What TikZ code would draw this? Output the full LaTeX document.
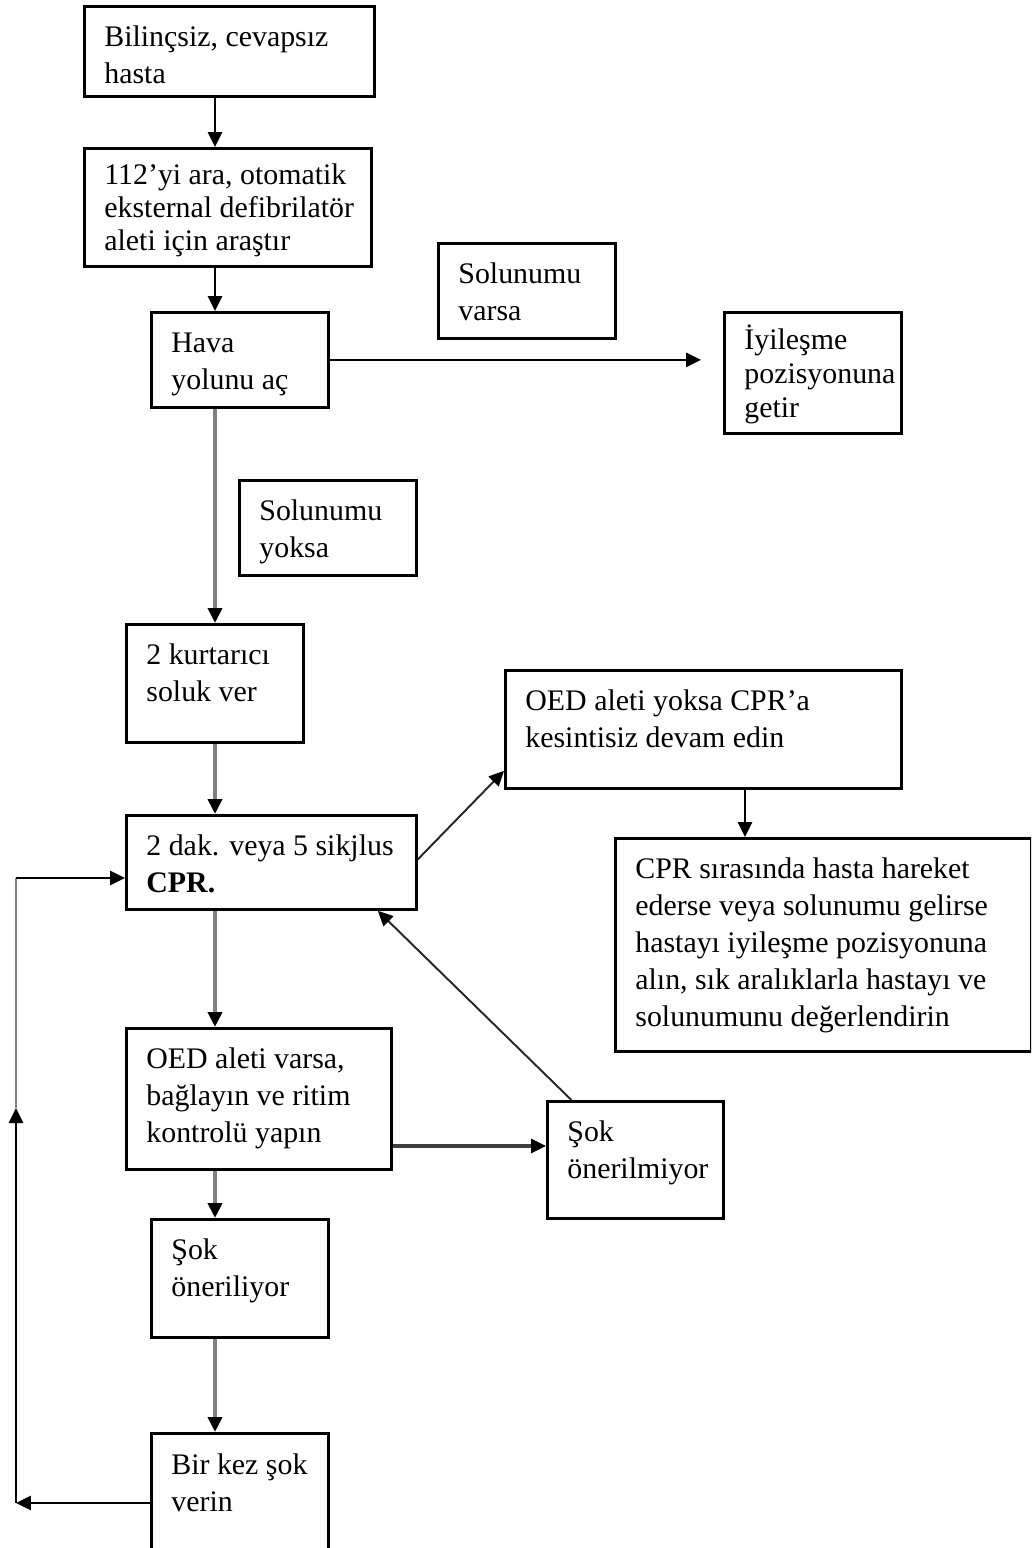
\documentclass[tikz,border=0pt]{standalone}
\usepackage{fontspec}
\setmainfont{Liberation Serif}
\usetikzlibrary{positioning,calc,arrows.meta}

\newlength\unitpx
\setlength\unitpx{0.02cm}
% box text: [first baseline], width, height (in px), lines
\newcommand\boxtext[4][40]{\parbox[b][#3\unitpx][t]{#2\unitpx}{\begin{tabular}[t]{@{}l@{}}\rule{0pt}{#1\unitpx}#4\end{tabular}}}

\begin{document}
\begin{tikzpicture}[x=0.02cm,y=-0.02cm,
    flowbox/.style={rectangle,draw=black,line width=1.6pt,anchor=north west,inner xsep=0.4cm,inner ysep=0pt,font=\fontsize{17}{21}\selectfont},
    arrowtip/.style={-{Triangle[length=0.3cm,width=0.28cm,color=black]}},
    blackline/.style={arrowtip,draw=black,line width=1.6pt},
    grayline/.style={arrowtip,draw=black!50,line width=2.8pt},
    darkline/.style={arrowtip,draw=black!75,line width=1.8pt},
    thinline/.style={arrowtip,draw=black!85,line width=1.1pt}]
        \useasboundingbox (0,0) rectangle (1031,1548);
        \clip (0,0) rectangle (1031,1548);

        % main column
        \node[flowbox] (hasta) at (83,5) {\boxtext{250}{90}{Bilinçsiz, cevapsız\\hasta}};
        \node[flowbox] (ara) at (83,147) {\boxtext[36]{247}{118}{112’yi ara, otomatik\\[-4\unitpx]eksternal defibrilatör\\[-4\unitpx]aleti için araştır}};
        \node[flowbox] (hava) at (150,311) {\boxtext{137}{95}{Hava\\yolunu aç}};
        \node[flowbox] (soluk) at (125,623) {\boxtext{137}{118}{2 kurtarıcı\\soluk ver}};
        \node[flowbox] (cpr) at (125,814) {\boxtext{250}{94}{2 dak. veya 5 sikjlus\\\textbf{CPR.}}};
        \node[flowbox] (ritim) at (125,1027) {\boxtext{225}{141}{OED aleti varsa,\\bağlayın ve ritim\\kontrolü yapın}};
        \node[flowbox] (sokvar) at (150,1218) {\boxtext{137}{118}{Şok\\öneriliyor}};
        \node[flowbox] (birkez) at (150,1432) {\boxtext[41]{137}{150}{Bir kez şok\\verin}};

        % side boxes
        \node[flowbox] (varsa) at (437,242) {\boxtext{137}{95}{Solunumu\\varsa}};
        \node[flowbox] (iyiles) at (723,311) {\boxtext[37]{137}{121}{İyileşme\\[-3\unitpx]pozisyonuna\\[-3\unitpx]getir}};
        \node[flowbox] (yoksa) at (238,479) {\boxtext{137}{95}{Solunumu\\yoksa}};
        \node[flowbox] (devam) at (504,669) {\boxtext{356}{118}{OED aleti yoksa CPR’a\\kesintisiz devam edin}};
        \node[flowbox] (sirasinda) at (614,837) {\boxtext{376}{213}{CPR sırasında hasta hareket\\ederse veya solunumu gelirse\\hastayı iyileşme pozisyonuna\\alın, sık aralıklarla hastayı ve\\solunumunu değerlendirin}};
        \node[flowbox] (sokyok) at (546,1100) {\boxtext{136}{117}{Şok\\önerilmiyor}};

        \coordinate (spine) at (215,0);
        \coordinate (col) at (745,0);
        \coordinate (row) at (0,1146);
        \coordinate (loopa) at (16,1503);
        \coordinate (loopb) at (16,1108);
        \coordinate (loopc) at (16,878);

        \draw[blackline] (hasta.south -| spine) -- (ara.north -| spine);
        \draw[blackline] (ara.south -| spine) -- (hava.north -| spine);
        \draw[blackline,shorten >=0.44cm] (hava.east) -- (hava.east -| iyiles.west);
        \draw[grayline] (hava.south -| spine) -- (soluk.north -| spine);
        \draw[grayline] (soluk.south -| spine) -- (cpr.north -| spine);
        \draw[thinline] ([yshift=0.06cm]cpr.east) -- ([yshift=0.38cm]devam.south west);
        \draw[blackline] (devam.south -| col) -- (sirasinda.north -| col);
        \draw[grayline] (cpr.south -| spine) -- (ritim.north -| spine);
        \draw[darkline] (ritim.east |- row) -- (sokyok.west |- row);
        \draw[thinline] ([xshift=-1.28cm]sokyok.north) -- ([xshift=-0.8cm]cpr.south east);
        \draw[grayline] (ritim.south -| spine) -- (sokvar.north -| spine);
        \draw[grayline] (sokvar.south -| spine) -- (birkez.north -| spine);

        % loop back to CPR
        \draw[blackline] (birkez.west |- loopa) -- (loopa);
        \draw[blackline] (loopa) -- (loopb);
        \draw[black!50,line width=1.6pt] (loopb) -- (loopc);
        \draw[blackline] (loopc) -- (cpr.west |- loopc);
\end{tikzpicture}
\end{document}
